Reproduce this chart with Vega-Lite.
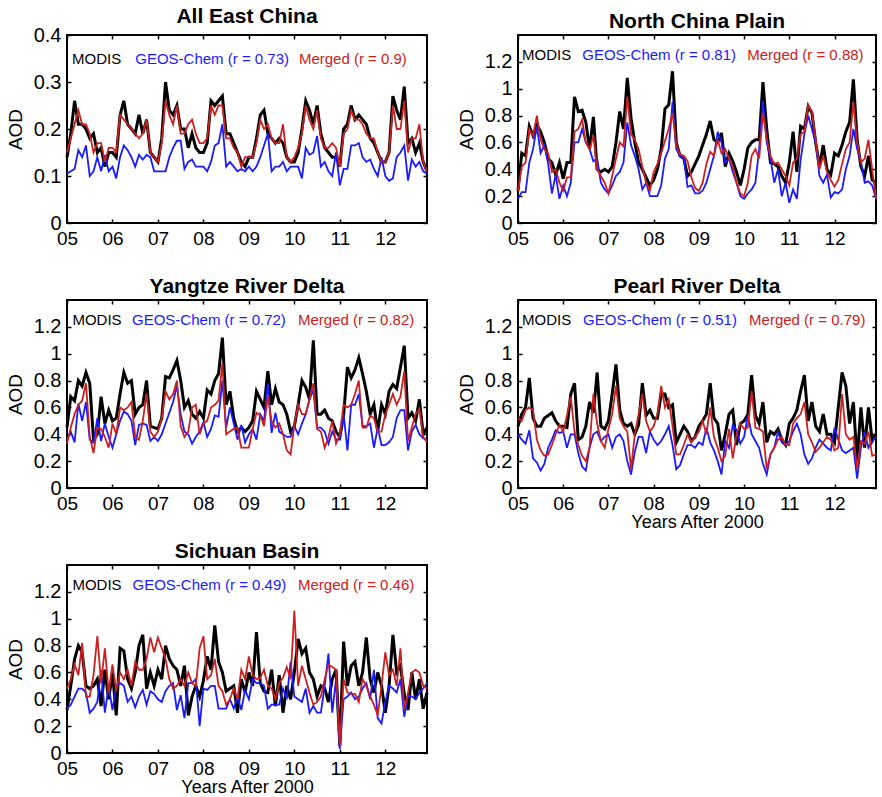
{
"$schema":"https://vega.github.io/schema/vega-lite/v6.json",
"padding":{"left":5,"top":5,"right":5,"bottom":0},
"background":"white",
"data":{"values":[
{"t":5,"aM":0.14,"aG":0.105,"aR":0.15,"nM":0.24,"nG":0.18,"nR":0.24,"yM":0.45,"yG":0.36,"yR":0.33,"pM":0.46,"pG":0.40,"pR":0.52,"sM":0.32,"sG":0.33,"sR":0.48},
{"t":5.083,"aM":0.19,"aG":0.11,"aR":0.18,"nM":0.52,"nG":0.23,"nR":0.42,"yM":0.68,"yG":0.42,"yR":0.45,"pM":0.55,"pG":0.36,"pR":0.50,"sM":0.50,"sG":0.36,"sR":0.55},
{"t":5.167,"aM":0.26,"aG":0.115,"aR":0.21,"nM":0.50,"nG":0.23,"nR":0.45,"yM":0.65,"yG":0.34,"yR":0.55,"pM":0.60,"pG":0.33,"pR":0.58,"sM":0.70,"sG":0.42,"sR":0.66},
{"t":5.25,"aM":0.21,"aG":0.155,"aR":0.24,"nM":0.72,"nG":0.45,"nR":0.70,"yM":0.80,"yG":0.63,"yR":0.62,"pM":0.82,"pG":0.43,"pR":0.60,"sM":0.80,"sG":0.48,"sR":0.58},
{"t":5.333,"aM":0.21,"aG":0.14,"aR":0.21,"nM":0.65,"nG":0.55,"nR":0.65,"yM":0.76,"yG":0.50,"yR":0.65,"pM":0.52,"pG":0.22,"pR":0.58,"sM":0.75,"sG":0.48,"sR":0.82},
{"t":5.417,"aM":0.20,"aG":0.165,"aR":0.21,"nM":0.73,"nG":0.72,"nR":0.80,"yM":0.86,"yG":0.64,"yR":0.78,"pM":0.46,"pG":0.19,"pR":0.36,"sM":0.50,"sG":0.45,"sR":0.42},
{"t":5.5,"aM":0.18,"aG":0.10,"aR":0.19,"nM":0.68,"nG":0.52,"nR":0.62,"yM":0.78,"yG":0.36,"yR":0.38,"pM":0.46,"pG":0.13,"pR":0.28,"sM":0.48,"sG":0.30,"sR":0.42},
{"t":5.583,"aM":0.19,"aG":0.11,"aR":0.15,"nM":0.60,"nG":0.58,"nR":0.55,"yM":0.36,"yG":0.34,"yR":0.26,"pM":0.52,"pG":0.18,"pR":0.24,"sM":0.50,"sG":0.33,"sR":0.58},
{"t":5.667,"aM":0.15,"aG":0.14,"aR":0.17,"nM":0.48,"nG":0.44,"nR":0.52,"yM":0.40,"yG":0.52,"yR":0.45,"pM":0.54,"pG":0.30,"pR":0.25,"sM":0.55,"sG":0.38,"sR":0.87},
{"t":5.75,"aM":0.16,"aG":0.11,"aR":0.17,"nM":0.45,"nG":0.22,"nR":0.38,"yM":0.68,"yG":0.35,"yR":0.44,"pM":0.56,"pG":0.36,"pR":0.32,"sM":0.35,"sG":0.62,"sR":0.52},
{"t":5.833,"aM":0.12,"aG":0.145,"aR":0.13,"nM":0.36,"nG":0.36,"nR":0.40,"yM":0.48,"yG":0.48,"yR":0.38,"pM":0.50,"pG":0.43,"pR":0.40,"sM":0.62,"sG":0.30,"sR":0.78},
{"t":5.917,"aM":0.15,"aG":0.11,"aR":0.16,"nM":0.45,"nG":0.18,"nR":0.30,"yM":0.58,"yG":0.38,"yR":0.30,"pM":0.46,"pG":0.41,"pR":0.47,"sM":0.40,"sG":0.50,"sR":0.45},
{"t":6,"aM":0.15,"aG":0.12,"aR":0.16,"nM":0.33,"nG":0.28,"nR":0.24,"yM":0.50,"yG":0.30,"yR":0.48,"pM":0.46,"pG":0.42,"pR":0.42,"sM":0.60,"sG":0.32,"sR":0.66},
{"t":6.083,"aM":0.14,"aG":0.095,"aR":0.15,"nM":0.45,"nG":0.20,"nR":0.34,"yM":0.52,"yG":0.40,"yR":0.40,"pM":0.45,"pG":0.30,"pR":0.54,"sM":0.28,"sG":0.50,"sR":0.46},
{"t":6.167,"aM":0.23,"aG":0.14,"aR":0.23,"nM":0.45,"nG":0.30,"nR":0.34,"yM":0.70,"yG":0.50,"yR":0.60,"pM":0.70,"pG":0.40,"pR":0.68,"sM":0.78,"sG":0.52,"sR":0.60},
{"t":6.25,"aM":0.26,"aG":0.165,"aR":0.22,"nM":0.94,"nG":0.60,"nR":0.68,"yM":0.86,"yG":0.57,"yR":0.58,"pM":0.78,"pG":0.40,"pR":0.42,"sM":0.76,"sG":0.50,"sR":0.55},
{"t":6.333,"aM":0.21,"aG":0.155,"aR":0.21,"nM":0.83,"nG":0.60,"nR":0.70,"yM":0.78,"yG":0.55,"yR":0.60,"pM":0.36,"pG":0.26,"pR":0.32,"sM":0.55,"sG":0.38,"sR":0.62},
{"t":6.417,"aM":0.20,"aG":0.14,"aR":0.20,"nM":0.84,"nG":0.70,"nR":0.77,"yM":0.80,"yG":0.50,"yR":0.64,"pM":0.38,"pG":0.16,"pR":0.24,"sM":0.48,"sG":0.42,"sR":0.50},
{"t":6.5,"aM":0.19,"aG":0.12,"aR":0.19,"nM":0.75,"nG":0.60,"nR":0.60,"yM":0.55,"yG":0.32,"yR":0.38,"pM":0.46,"pG":0.13,"pR":0.20,"sM":0.60,"sG":0.34,"sR":0.68},
{"t":6.583,"aM":0.23,"aG":0.145,"aR":0.18,"nM":0.55,"nG":0.55,"nR":0.55,"yM":0.60,"yG":0.47,"yR":0.36,"pM":0.64,"pG":0.30,"pR":0.30,"sM":0.80,"sG":0.42,"sR":0.62},
{"t":6.667,"aM":0.19,"aG":0.135,"aR":0.19,"nM":0.79,"nG":0.46,"nR":0.65,"yM":0.62,"yG":0.48,"yR":0.50,"pM":0.56,"pG":0.40,"pR":0.70,"sM":0.88,"sG":0.47,"sR":0.62},
{"t":6.75,"aM":0.22,"aG":0.145,"aR":0.22,"nM":0.40,"nG":0.48,"nR":0.40,"yM":0.80,"yG":0.47,"yR":0.70,"pM":0.86,"pG":0.42,"pR":0.48,"sM":0.48,"sG":0.36,"sR":0.70},
{"t":6.833,"aM":0.15,"aG":0.14,"aR":0.15,"nM":0.38,"nG":0.30,"nR":0.35,"yM":0.46,"yG":0.35,"yR":0.42,"pM":0.46,"pG":0.35,"pR":0.35,"sM":0.60,"sG":0.46,"sR":0.86},
{"t":6.917,"aM":0.14,"aG":0.11,"aR":0.14,"nM":0.40,"nG":0.25,"nR":0.30,"yM":0.45,"yG":0.38,"yR":0.38,"pM":0.44,"pG":0.38,"pR":0.30,"sM":0.50,"sG":0.44,"sR":0.75},
{"t":7,"aM":0.13,"aG":0.11,"aR":0.13,"nM":0.38,"nG":0.22,"nR":0.22,"yM":0.44,"yG":0.35,"yR":0.42,"pM":0.50,"pG":0.40,"pR":0.44,"sM":0.62,"sG":0.40,"sR":0.86},
{"t":7.083,"aM":0.18,"aG":0.11,"aR":0.17,"nM":0.42,"nG":0.28,"nR":0.35,"yM":0.52,"yG":0.40,"yR":0.52,"pM":0.70,"pG":0.30,"pR":0.55,"sM":0.55,"sG":0.38,"sR":0.78},
{"t":7.167,"aM":0.30,"aG":0.11,"aR":0.26,"nM":0.60,"nG":0.35,"nR":0.48,"yM":0.83,"yG":0.48,"yR":0.72,"pM":0.92,"pG":0.38,"pR":0.76,"sM":0.80,"sG":0.46,"sR":0.70},
{"t":7.25,"aM":0.24,"aG":0.14,"aR":0.23,"nM":0.83,"nG":0.38,"nR":0.60,"yM":0.82,"yG":0.56,"yR":0.66,"pM":0.58,"pG":0.40,"pR":0.52,"sM":0.70,"sG":0.50,"sR":0.55},
{"t":7.333,"aM":0.23,"aG":0.16,"aR":0.21,"nM":0.70,"nG":0.45,"nR":0.57,"yM":0.88,"yG":0.64,"yR":0.70,"pM":0.48,"pG":0.35,"pR":0.46,"sM":0.65,"sG":0.52,"sR":0.48},
{"t":7.417,"aM":0.25,"aG":0.175,"aR":0.25,"nM":1.08,"nG":0.75,"nR":0.94,"yM":0.95,"yG":0.76,"yR":0.80,"pM":0.46,"pG":0.20,"pR":0.42,"sM":0.62,"sG":0.32,"sR":0.50},
{"t":7.5,"aM":0.20,"aG":0.175,"aR":0.19,"nM":0.78,"nG":0.58,"nR":0.66,"yM":0.80,"yG":0.55,"yR":0.46,"pM":0.48,"pG":0.10,"pR":0.14,"sM":0.50,"sG":0.43,"sR":0.55},
{"t":7.583,"aM":0.20,"aG":0.115,"aR":0.19,"nM":0.60,"nG":0.50,"nR":0.62,"yM":0.60,"yG":0.42,"yR":0.38,"pM":0.40,"pG":0.27,"pR":0.40,"sM":0.65,"sG":0.26,"sR":0.50},
{"t":7.667,"aM":0.16,"aG":0.13,"aR":0.21,"nM":0.45,"nG":0.40,"nR":0.55,"yM":0.65,"yG":0.40,"yR":0.42,"pM":0.47,"pG":0.38,"pR":0.55,"sM":0.28,"sG":0.52,"sR":0.60},
{"t":7.75,"aM":0.19,"aG":0.135,"aR":0.22,"nM":0.40,"nG":0.25,"nR":0.42,"yM":0.55,"yG":0.33,"yR":0.60,"pM":0.78,"pG":0.38,"pR":0.70,"sM":0.42,"sG":0.52,"sR":0.52},
{"t":7.833,"aM":0.16,"aG":0.12,"aR":0.19,"nM":0.34,"nG":0.30,"nR":0.30,"yM":0.52,"yG":0.38,"yR":0.62,"pM":0.54,"pG":0.26,"pR":0.50,"sM":0.50,"sG":0.55,"sR":0.50},
{"t":7.917,"aM":0.15,"aG":0.12,"aR":0.17,"nM":0.28,"nG":0.20,"nR":0.24,"yM":0.57,"yG":0.42,"yR":0.40,"pM":0.58,"pG":0.42,"pR":0.42,"sM":0.42,"sG":0.20,"sR":0.78},
{"t":8,"aM":0.15,"aG":0.12,"aR":0.17,"nM":0.32,"nG":0.20,"nR":0.38,"yM":0.52,"yG":0.49,"yR":0.48,"pM":0.52,"pG":0.36,"pR":0.46,"sM":0.54,"sG":0.48,"sR":0.87},
{"t":8.083,"aM":0.17,"aG":0.11,"aR":0.18,"nM":0.40,"nG":0.20,"nR":0.44,"yM":0.73,"yG":0.38,"yR":0.50,"pM":0.52,"pG":0.32,"pR":0.55,"sM":0.72,"sG":0.47,"sR":0.55},
{"t":8.167,"aM":0.26,"aG":0.13,"aR":0.25,"nM":0.55,"nG":0.28,"nR":0.52,"yM":0.70,"yG":0.44,"yR":0.60,"pM":0.70,"pG":0.35,"pR":0.76,"sM":0.62,"sG":0.50,"sR":0.58},
{"t":8.25,"aM":0.25,"aG":0.165,"aR":0.23,"nM":0.85,"nG":0.48,"nR":0.61,"yM":0.80,"yG":0.54,"yR":0.62,"pM":0.70,"pG":0.40,"pR":0.60,"sM":0.95,"sG":0.50,"sR":0.70},
{"t":8.333,"aM":0.26,"aG":0.17,"aR":0.25,"nM":0.88,"nG":0.55,"nR":0.70,"yM":0.85,"yG":0.53,"yR":0.65,"pM":0.60,"pG":0.46,"pR":0.66,"sM":0.68,"sG":0.33,"sR":0.50},
{"t":8.417,"aM":0.27,"aG":0.21,"aR":0.25,"nM":1.13,"nG":0.90,"nR":0.82,"yM":1.12,"yG":0.80,"yR":0.93,"pM":0.62,"pG":0.32,"pR":0.46,"sM":0.60,"sG":0.33,"sR":0.46},
{"t":8.5,"aM":0.19,"aG":0.12,"aR":0.18,"nM":0.60,"nG":0.55,"nR":0.58,"yM":0.62,"yG":0.45,"yR":0.40,"pM":0.34,"pG":0.14,"pR":0.25,"sM":0.46,"sG":0.33,"sR":0.36},
{"t":8.583,"aM":0.19,"aG":0.13,"aR":0.18,"nM":0.50,"nG":0.50,"nR":0.51,"yM":0.72,"yG":0.60,"yR":0.42,"pM":0.40,"pG":0.17,"pR":0.25,"sM":0.48,"sG":0.40,"sR":0.40},
{"t":8.667,"aM":0.17,"aG":0.12,"aR":0.16,"nM":0.48,"nG":0.48,"nR":0.50,"yM":0.52,"yG":0.48,"yR":0.44,"pM":0.46,"pG":0.25,"pR":0.32,"sM":0.50,"sG":0.33,"sR":0.48},
{"t":8.75,"aM":0.15,"aG":0.11,"aR":0.15,"nM":0.35,"nG":0.27,"nR":0.46,"yM":0.42,"yG":0.36,"yR":0.45,"pM":0.42,"pG":0.32,"pR":0.40,"sM":0.30,"sG":0.42,"sR":0.40},
{"t":8.833,"aM":0.13,"aG":0.115,"aR":0.12,"nM":0.38,"nG":0.28,"nR":0.34,"yM":0.45,"yG":0.47,"yR":0.30,"pM":0.35,"pG":0.32,"pR":0.34,"sM":0.55,"sG":0.32,"sR":0.62},
{"t":8.917,"aM":0.12,"aG":0.11,"aR":0.14,"nM":0.44,"nG":0.22,"nR":0.26,"yM":0.42,"yG":0.34,"yR":0.30,"pM":0.38,"pG":0.30,"pR":0.38,"sM":0.45,"sG":0.47,"sR":0.55},
{"t":9,"aM":0.14,"aG":0.12,"aR":0.14,"nM":0.50,"nG":0.22,"nR":0.24,"yM":0.45,"yG":0.40,"yR":0.30,"pM":0.46,"pG":0.34,"pR":0.42,"sM":0.60,"sG":0.40,"sR":0.72},
{"t":9.083,"aM":0.14,"aG":0.11,"aR":0.14,"nM":0.58,"nG":0.24,"nR":0.30,"yM":0.50,"yG":0.44,"yR":0.44,"pM":0.50,"pG":0.32,"pR":0.50,"sM":0.50,"sG":0.55,"sR":0.58},
{"t":9.167,"aM":0.18,"aG":0.12,"aR":0.17,"nM":0.66,"nG":0.30,"nR":0.44,"yM":0.72,"yG":0.36,"yR":0.56,"pM":0.55,"pG":0.45,"pR":0.40,"sM":0.90,"sG":0.52,"sR":0.55},
{"t":9.25,"aM":0.23,"aG":0.14,"aR":0.22,"nM":0.76,"nG":0.40,"nR":0.53,"yM":0.66,"yG":0.55,"yR":0.54,"pM":0.78,"pG":0.34,"pR":0.60,"sM":0.52,"sG":0.52,"sR":0.56},
{"t":9.333,"aM":0.24,"aG":0.165,"aR":0.20,"nM":0.62,"nG":0.50,"nR":0.50,"yM":0.60,"yG":0.50,"yR":0.46,"pM":0.52,"pG":0.28,"pR":0.38,"sM":0.46,"sG":0.50,"sR":0.62},
{"t":9.417,"aM":0.19,"aG":0.19,"aR":0.21,"nM":0.60,"nG":0.68,"nR":0.62,"yM":0.87,"yG":0.78,"yR":0.68,"pM":0.48,"pG":0.20,"pR":0.30,"sM":0.45,"sG":0.33,"sR":0.50},
{"t":9.5,"aM":0.18,"aG":0.11,"aR":0.18,"nM":0.67,"nG":0.60,"nR":0.52,"yM":0.62,"yG":0.41,"yR":0.50,"pM":0.28,"pG":0.10,"pR":0.20,"sM":0.62,"sG":0.36,"sR":0.48},
{"t":9.583,"aM":0.17,"aG":0.12,"aR":0.17,"nM":0.42,"nG":0.45,"nR":0.55,"yM":0.74,"yG":0.56,"yR":0.45,"pM":0.40,"pG":0.35,"pR":0.24,"sM":0.35,"sG":0.36,"sR":0.40},
{"t":9.667,"aM":0.18,"aG":0.12,"aR":0.17,"nM":0.52,"nG":0.48,"nR":0.48,"yM":0.64,"yG":0.42,"yR":0.48,"pM":0.55,"pG":0.30,"pR":0.44,"sM":0.58,"sG":0.36,"sR":0.52},
{"t":9.75,"aM":0.17,"aG":0.13,"aR":0.21,"nM":0.46,"nG":0.38,"nR":0.42,"yM":0.62,"yG":0.40,"yR":0.40,"pM":0.58,"pG":0.47,"pR":0.22,"sM":0.30,"sG":0.48,"sR":0.56},
{"t":9.833,"aM":0.14,"aG":0.11,"aR":0.14,"nM":0.38,"nG":0.30,"nR":0.30,"yM":0.55,"yG":0.38,"yR":0.28,"pM":0.32,"pG":0.43,"pR":0.40,"sM":0.50,"sG":0.40,"sR":0.64},
{"t":9.917,"aM":0.13,"aG":0.12,"aR":0.13,"nM":0.28,"nG":0.20,"nR":0.22,"yM":0.42,"yG":0.38,"yR":0.25,"pM":0.48,"pG":0.33,"pR":0.48,"sM":0.40,"sG":0.68,"sR":0.55},
{"t":10,"aM":0.13,"aG":0.12,"aR":0.14,"nM":0.40,"nG":0.18,"nR":0.20,"yM":0.46,"yG":0.46,"yR":0.47,"pM":0.50,"pG":0.38,"pR":0.44,"sM":0.60,"sG":0.42,"sR":1.06},
{"t":10.083,"aM":0.15,"aG":0.12,"aR":0.16,"nM":0.56,"nG":0.22,"nR":0.30,"yM":0.62,"yG":0.40,"yR":0.62,"pM":0.55,"pG":0.54,"pR":0.45,"sM":0.85,"sG":0.40,"sR":0.50},
{"t":10.167,"aM":0.20,"aG":0.095,"aR":0.19,"nM":0.60,"nG":0.25,"nR":0.50,"yM":0.80,"yG":0.48,"yR":0.55,"pM":0.84,"pG":0.40,"pR":0.72,"sM":0.74,"sG":0.38,"sR":0.65},
{"t":10.25,"aM":0.26,"aG":0.16,"aR":0.25,"nM":0.62,"nG":0.30,"nR":0.55,"yM":0.75,"yG":0.55,"yR":0.55,"pM":0.54,"pG":0.35,"pR":0.45,"sM":0.78,"sG":0.48,"sR":0.55},
{"t":10.333,"aM":0.24,"aG":0.145,"aR":0.22,"nM":0.62,"nG":0.55,"nR":0.48,"yM":0.66,"yG":0.66,"yR":0.66,"pM":0.48,"pG":0.30,"pR":0.44,"sM":0.60,"sG":0.30,"sR":0.45},
{"t":10.417,"aM":0.21,"aG":0.15,"aR":0.20,"nM":1.05,"nG":0.91,"nR":0.82,"yM":1.10,"yG":0.73,"yR":0.78,"pM":0.64,"pG":0.18,"pR":0.42,"sM":0.55,"sG":0.35,"sR":0.36},
{"t":10.5,"aM":0.25,"aG":0.185,"aR":0.24,"nM":0.70,"nG":0.60,"nR":0.63,"yM":0.55,"yG":0.45,"yR":0.44,"pM":0.34,"pG":0.10,"pR":0.14,"sM":0.42,"sG":0.30,"sR":0.38},
{"t":10.583,"aM":0.19,"aG":0.12,"aR":0.18,"nM":0.45,"nG":0.48,"nR":0.50,"yM":0.55,"yG":0.45,"yR":0.42,"pM":0.42,"pG":0.25,"pR":0.25,"sM":0.50,"sG":0.30,"sR":0.42},
{"t":10.667,"aM":0.16,"aG":0.13,"aR":0.16,"nM":0.44,"nG":0.30,"nR":0.44,"yM":0.58,"yG":0.42,"yR":0.30,"pM":0.40,"pG":0.30,"pR":0.30,"sM":0.48,"sG":0.50,"sR":0.55},
{"t":10.75,"aM":0.15,"aG":0.11,"aR":0.16,"nM":0.42,"nG":0.40,"nR":0.45,"yM":0.52,"yG":0.33,"yR":0.38,"pM":0.44,"pG":0.42,"pR":0.36,"sM":0.38,"sG":0.74,"sR":0.66},
{"t":10.833,"aM":0.14,"aG":0.10,"aR":0.17,"nM":0.35,"nG":0.20,"nR":0.40,"yM":0.50,"yG":0.42,"yR":0.50,"pM":0.36,"pG":0.34,"pR":0.38,"sM":0.55,"sG":0.30,"sR":0.64},
{"t":10.917,"aM":0.14,"aG":0.15,"aR":0.16,"nM":0.30,"nG":0.30,"nR":0.35,"yM":0.42,"yG":0.36,"yR":0.33,"pM":0.32,"pG":0.32,"pR":0.32,"sM":0.62,"sG":0.55,"sR":0.62},
{"t":11,"aM":0.12,"aG":0.08,"aR":0.12,"nM":0.45,"nG":0.15,"nR":0.28,"yM":0.38,"yG":0.36,"yR":0.40,"pM":0.48,"pG":0.35,"pR":0.32,"sM":0.05,"sG":0.03,"sR":0.05},
{"t":11.083,"aM":0.20,"aG":0.115,"aR":0.19,"nM":0.68,"nG":0.25,"nR":0.45,"yM":0.54,"yG":0.55,"yR":0.62,"pM":0.52,"pG":0.42,"pR":0.48,"sM":0.83,"sG":0.40,"sR":0.55},
{"t":11.167,"aM":0.21,"aG":0.115,"aR":0.20,"nM":0.38,"nG":0.18,"nR":0.48,"yM":0.90,"yG":0.28,"yR":0.60,"pM":0.58,"pG":0.48,"pR":0.52,"sM":0.50,"sG":0.42,"sR":0.45},
{"t":11.25,"aM":0.25,"aG":0.165,"aR":0.24,"nM":0.72,"nG":0.47,"nR":0.66,"yM":0.82,"yG":0.62,"yR":0.62,"pM":0.72,"pG":0.40,"pR":0.55,"sM":0.65,"sG":0.45,"sR":0.44},
{"t":11.333,"aM":0.22,"aG":0.165,"aR":0.22,"nM":0.70,"nG":0.66,"nR":0.68,"yM":0.88,"yG":0.62,"yR":0.70,"pM":0.84,"pG":0.25,"pR":0.64,"sM":0.68,"sG":0.40,"sR":0.44},
{"t":11.417,"aM":0.23,"aG":0.17,"aR":0.22,"nM":0.87,"nG":0.80,"nR":0.88,"yM":0.97,"yG":0.70,"yR":0.80,"pM":0.50,"pG":0.18,"pR":0.40,"sM":0.50,"sG":0.42,"sR":0.38},
{"t":11.5,"aM":0.22,"aG":0.14,"aR":0.21,"nM":0.82,"nG":0.70,"nR":0.83,"yM":0.85,"yG":0.46,"yR":0.45,"pM":0.64,"pG":0.22,"pR":0.34,"sM":0.60,"sG":0.48,"sR":0.55},
{"t":11.583,"aM":0.21,"aG":0.13,"aR":0.19,"nM":0.60,"nG":0.60,"nR":0.62,"yM":0.72,"yG":0.46,"yR":0.45,"pM":0.46,"pG":0.30,"pR":0.27,"sM":0.86,"sG":0.52,"sR":0.50},
{"t":11.667,"aM":0.18,"aG":0.135,"aR":0.18,"nM":0.42,"nG":0.35,"nR":0.40,"yM":0.55,"yG":0.48,"yR":0.54,"pM":0.42,"pG":0.36,"pR":0.30,"sM":0.55,"sG":0.40,"sR":0.42},
{"t":11.75,"aM":0.17,"aG":0.115,"aR":0.18,"nM":0.58,"nG":0.30,"nR":0.50,"yM":0.62,"yG":0.30,"yR":0.52,"pM":0.55,"pG":0.33,"pR":0.34,"sM":0.45,"sG":0.62,"sR":0.36},
{"t":11.833,"aM":0.15,"aG":0.10,"aR":0.15,"nM":0.40,"nG":0.36,"nR":0.38,"yM":0.42,"yG":0.45,"yR":0.42,"pM":0.40,"pG":0.30,"pR":0.38,"sM":0.60,"sG":0.26,"sR":0.28},
{"t":11.917,"aM":0.13,"aG":0.14,"aR":0.13,"nM":0.36,"nG":0.19,"nR":0.32,"yM":0.62,"yG":0.32,"yR":0.42,"pM":0.40,"pG":0.28,"pR":0.36,"sM":0.50,"sG":0.22,"sR":0.50},
{"t":12,"aM":0.13,"aG":0.10,"aR":0.13,"nM":0.52,"nG":0.23,"nR":0.27,"yM":0.55,"yG":0.32,"yR":0.55,"pM":0.34,"pG":0.45,"pR":0.28,"sM":0.30,"sG":0.38,"sR":0.75},
{"t":12.083,"aM":0.15,"aG":0.09,"aR":0.15,"nM":0.50,"nG":0.22,"nR":0.32,"yM":0.72,"yG":0.34,"yR":0.62,"pM":0.60,"pG":0.36,"pR":0.30,"sM":0.50,"sG":0.50,"sR":0.58},
{"t":12.167,"aM":0.27,"aG":0.095,"aR":0.25,"nM":0.58,"nG":0.25,"nR":0.44,"yM":0.77,"yG":0.38,"yR":0.70,"pM":0.86,"pG":0.28,"pR":0.70,"sM":0.88,"sG":0.48,"sR":0.62},
{"t":12.25,"aM":0.24,"aG":0.14,"aR":0.20,"nM":0.68,"nG":0.40,"nR":0.55,"yM":0.74,"yG":0.52,"yR":0.62,"pM":0.76,"pG":0.26,"pR":0.40,"sM":0.60,"sG":0.45,"sR":0.50},
{"t":12.333,"aM":0.22,"aG":0.15,"aR":0.20,"nM":0.75,"nG":0.50,"nR":0.60,"yM":0.90,"yG":0.58,"yR":0.68,"pM":0.48,"pG":0.28,"pR":0.36,"sM":0.65,"sG":0.55,"sR":0.78},
{"t":12.417,"aM":0.29,"aG":0.165,"aR":0.26,"nM":1.07,"nG":0.70,"nR":0.90,"yM":1.06,"yG":0.58,"yR":0.87,"pM":0.64,"pG":0.30,"pR":0.38,"sM":0.44,"sG":0.27,"sR":0.32},
{"t":12.5,"aM":0.17,"aG":0.09,"aR":0.15,"nM":0.62,"nG":0.55,"nR":0.60,"yM":0.52,"yG":0.28,"yR":0.35,"pM":0.20,"pG":0.07,"pR":0.14,"sM":0.32,"sG":0.43,"sR":0.45},
{"t":12.583,"aM":0.18,"aG":0.135,"aR":0.18,"nM":0.42,"nG":0.46,"nR":0.45,"yM":0.56,"yG":0.42,"yR":0.45,"pM":0.60,"pG":0.30,"pR":0.35,"sM":0.60,"sG":0.42,"sR":0.60},
{"t":12.667,"aM":0.15,"aG":0.12,"aR":0.18,"nM":0.35,"nG":0.30,"nR":0.48,"yM":0.50,"yG":0.47,"yR":0.55,"pM":0.30,"pG":0.42,"pR":0.33,"sM":0.40,"sG":0.40,"sR":0.62},
{"t":12.75,"aM":0.17,"aG":0.13,"aR":0.21,"nM":0.50,"nG":0.31,"nR":0.62,"yM":0.66,"yG":0.40,"yR":0.59,"pM":0.60,"pG":0.30,"pR":0.42,"sM":0.55,"sG":0.45,"sR":0.60},
{"t":12.833,"aM":0.13,"aG":0.11,"aR":0.13,"nM":0.32,"nG":0.28,"nR":0.40,"yM":0.40,"yG":0.37,"yR":0.38,"pM":0.35,"pG":0.35,"pR":0.24,"sM":0.33,"sG":0.48,"sR":0.50},
{"t":12.917,"aM":0.11,"aG":0.105,"aR":0.11,"nM":0.30,"nG":0.18,"nR":0.18,"yM":0.45,"yG":0.36,"yR":0.34,"pM":0.40,"pG":0.38,"pR":0.25,"sM":0.45,"sG":0.52,"sR":0.48}
]},
"columns":2,
"bounds":"flush",
"spacing":{"row":77,"column":91},
"concat":[
{"width":360,"height":188,"title":{"text":"All East China","offset":-2},
 "layer":[
  {"mark":{"type":"line","color":"black","strokeWidth":3},"encoding":{"x":{"field":"t","type":"quantitative","scale":{"domain":[5,12.917],"nice":false,"zero":false},"axis":{"orient":"bottom","values":[5,6,7,8,9,10,11,12],"labelExpr":"datum.value < 10 ? '0' + datum.value : '' + datum.value","title":null}},"y":{"field":"aM","type":"quantitative","scale":{"domain":[0,0.4],"nice":false},"axis":{"orient":"left","values":[0,0.1,0.2,0.3,0.4],"format":".1~f","title":"AOD"}}}},
  {"mark":{"type":"line","color":"#1a1aff","strokeWidth":1.8},"encoding":{"x":{"field":"t","type":"quantitative","axis":null},"y":{"field":"aG","type":"quantitative","axis":null}}},
  {"mark":{"type":"line","color":"#cc2020","strokeWidth":1.8},"encoding":{"x":{"field":"t","type":"quantitative","axis":null},"y":{"field":"aR","type":"quantitative","axis":null}}},
  {"data":{"values":[{"label":"MODIS","x":5.11,"y":0.349}]},"mark":{"type":"text","align":"left","baseline":"middle","fontSize":15,"fill":"black"},"encoding":{"x":{"field":"x","type":"quantitative","axis":null},"y":{"field":"y","type":"quantitative","axis":null},"text":{"field":"label"}}},
  {"data":{"values":[{"label":"GEOS-Chem (r = 0.73)","x":6.5,"y":0.349}]},"mark":{"type":"text","align":"left","baseline":"middle","fontSize":15,"fill":"#1a1aff"},"encoding":{"x":{"field":"x","type":"quantitative","axis":null},"y":{"field":"y","type":"quantitative","axis":null},"text":{"field":"label"}}},
  {"data":{"values":[{"label":"Merged (r = 0.9)","x":10.1,"y":0.349}]},"mark":{"type":"text","align":"left","baseline":"middle","fontSize":15,"fill":"#cc2020"},"encoding":{"x":{"field":"x","type":"quantitative","axis":null},"y":{"field":"y","type":"quantitative","axis":null},"text":{"field":"label"}}},
  {"mark":{"type":"line","opacity":0},"encoding":{"x":{"field":"t","type":"quantitative","axis":{"orient":"top","values":[5,6,7,8,9,10,11,12],"labels":false,"title":null}},"y":{"field":"aM","type":"quantitative","axis":{"orient":"right","values":[0,0.1,0.2,0.3,0.4],"labels":false,"title":null}}}}
 ],
 "resolve":{"axis":{"x":"independent","y":"independent"}}},
{"width":358,"height":188,"title":"North China Plain",
 "layer":[
  {"mark":{"type":"line","color":"black","strokeWidth":3},"encoding":{"x":{"field":"t","type":"quantitative","scale":{"domain":[5,12.917],"nice":false,"zero":false},"axis":{"orient":"bottom","values":[5,6,7,8,9,10,11,12],"labelExpr":"datum.value < 10 ? '0' + datum.value : '' + datum.value","title":null}},"y":{"field":"nM","type":"quantitative","scale":{"domain":[0,1.4],"nice":false},"axis":{"orient":"left","values":[0,0.2,0.4,0.6,0.8,1,1.2],"format":".1~f","title":"AOD"}}}},
  {"mark":{"type":"line","color":"#1a1aff","strokeWidth":1.8},"encoding":{"x":{"field":"t","type":"quantitative","axis":null},"y":{"field":"nG","type":"quantitative","axis":null}}},
  {"mark":{"type":"line","color":"#cc2020","strokeWidth":1.8},"encoding":{"x":{"field":"t","type":"quantitative","axis":null},"y":{"field":"nR","type":"quantitative","axis":null}}},
  {"data":{"values":[{"label":"MODIS","x":5.09,"y":1.25}]},"mark":{"type":"text","align":"left","baseline":"middle","fontSize":15,"fill":"black"},"encoding":{"x":{"field":"x","type":"quantitative","axis":null},"y":{"field":"y","type":"quantitative","axis":null},"text":{"field":"label"}}},
  {"data":{"values":[{"label":"GEOS-Chem (r = 0.81)","x":6.42,"y":1.25}]},"mark":{"type":"text","align":"left","baseline":"middle","fontSize":15,"fill":"#1a1aff"},"encoding":{"x":{"field":"x","type":"quantitative","axis":null},"y":{"field":"y","type":"quantitative","axis":null},"text":{"field":"label"}}},
  {"data":{"values":[{"label":"Merged (r = 0.88)","x":10.07,"y":1.25}]},"mark":{"type":"text","align":"left","baseline":"middle","fontSize":15,"fill":"#cc2020"},"encoding":{"x":{"field":"x","type":"quantitative","axis":null},"y":{"field":"y","type":"quantitative","axis":null},"text":{"field":"label"}}},
  {"mark":{"type":"line","opacity":0},"encoding":{"x":{"field":"t","type":"quantitative","axis":{"orient":"top","values":[5,6,7,8,9,10,11,12],"labels":false,"title":null}},"y":{"field":"nM","type":"quantitative","axis":{"orient":"right","values":[0,0.2,0.4,0.6,0.8,1,1.2],"labels":false,"title":null}}}}
 ],
 "resolve":{"axis":{"x":"independent","y":"independent"}}},
{"width":360,"height":188,"title":"Yangtze River Delta",
 "layer":[
  {"mark":{"type":"line","color":"black","strokeWidth":3},"encoding":{"x":{"field":"t","type":"quantitative","scale":{"domain":[5,12.917],"nice":false,"zero":false},"axis":{"orient":"bottom","values":[5,6,7,8,9,10,11,12],"labelExpr":"datum.value < 10 ? '0' + datum.value : '' + datum.value","title":null}},"y":{"field":"yM","type":"quantitative","scale":{"domain":[0,1.4],"nice":false},"axis":{"orient":"left","values":[0,0.2,0.4,0.6,0.8,1,1.2],"format":".1~f","title":"AOD"}}}},
  {"mark":{"type":"line","color":"#1a1aff","strokeWidth":1.8},"encoding":{"x":{"field":"t","type":"quantitative","axis":null},"y":{"field":"yG","type":"quantitative","axis":null}}},
  {"mark":{"type":"line","color":"#cc2020","strokeWidth":1.8},"encoding":{"x":{"field":"t","type":"quantitative","axis":null},"y":{"field":"yR","type":"quantitative","axis":null}}},
  {"data":{"values":[{"label":"MODIS","x":5.12,"y":1.25}]},"mark":{"type":"text","align":"left","baseline":"middle","fontSize":15,"fill":"black"},"encoding":{"x":{"field":"x","type":"quantitative","axis":null},"y":{"field":"y","type":"quantitative","axis":null},"text":{"field":"label"}}},
  {"data":{"values":[{"label":"GEOS-Chem (r = 0.72)","x":6.43,"y":1.25}]},"mark":{"type":"text","align":"left","baseline":"middle","fontSize":15,"fill":"#1a1aff"},"encoding":{"x":{"field":"x","type":"quantitative","axis":null},"y":{"field":"y","type":"quantitative","axis":null},"text":{"field":"label"}}},
  {"data":{"values":[{"label":"Merged (r = 0.82)","x":10.08,"y":1.25}]},"mark":{"type":"text","align":"left","baseline":"middle","fontSize":15,"fill":"#cc2020"},"encoding":{"x":{"field":"x","type":"quantitative","axis":null},"y":{"field":"y","type":"quantitative","axis":null},"text":{"field":"label"}}},
  {"mark":{"type":"line","opacity":0},"encoding":{"x":{"field":"t","type":"quantitative","axis":{"orient":"top","values":[5,6,7,8,9,10,11,12],"labels":false,"title":null}},"y":{"field":"yM","type":"quantitative","axis":{"orient":"right","values":[0,0.2,0.4,0.6,0.8,1,1.2],"labels":false,"title":null}}}}
 ],
 "resolve":{"axis":{"x":"independent","y":"independent"}}},
{"width":358,"height":188,"title":"Pearl River Delta",
 "layer":[
  {"mark":{"type":"line","color":"black","strokeWidth":3},"encoding":{"x":{"field":"t","type":"quantitative","scale":{"domain":[5,12.917],"nice":false,"zero":false},"axis":{"orient":"bottom","values":[5,6,7,8,9,10,11,12],"labelExpr":"datum.value < 10 ? '0' + datum.value : '' + datum.value","title":"Years After 2000"}},"y":{"field":"pM","type":"quantitative","scale":{"domain":[0,1.4],"nice":false},"axis":{"orient":"left","values":[0,0.2,0.4,0.6,0.8,1,1.2],"format":".1~f","title":"AOD"}}}},
  {"mark":{"type":"line","color":"#1a1aff","strokeWidth":1.8},"encoding":{"x":{"field":"t","type":"quantitative","axis":null},"y":{"field":"pG","type":"quantitative","axis":null}}},
  {"mark":{"type":"line","color":"#cc2020","strokeWidth":1.8},"encoding":{"x":{"field":"t","type":"quantitative","axis":null},"y":{"field":"pR","type":"quantitative","axis":null}}},
  {"data":{"values":[{"label":"MODIS","x":5.09,"y":1.25}]},"mark":{"type":"text","align":"left","baseline":"middle","fontSize":15,"fill":"black"},"encoding":{"x":{"field":"x","type":"quantitative","axis":null},"y":{"field":"y","type":"quantitative","axis":null},"text":{"field":"label"}}},
  {"data":{"values":[{"label":"GEOS-Chem (r = 0.51)","x":6.44,"y":1.25}]},"mark":{"type":"text","align":"left","baseline":"middle","fontSize":15,"fill":"#1a1aff"},"encoding":{"x":{"field":"x","type":"quantitative","axis":null},"y":{"field":"y","type":"quantitative","axis":null},"text":{"field":"label"}}},
  {"data":{"values":[{"label":"Merged (r = 0.79)","x":10.11,"y":1.25}]},"mark":{"type":"text","align":"left","baseline":"middle","fontSize":15,"fill":"#cc2020"},"encoding":{"x":{"field":"x","type":"quantitative","axis":null},"y":{"field":"y","type":"quantitative","axis":null},"text":{"field":"label"}}},
  {"mark":{"type":"line","opacity":0},"encoding":{"x":{"field":"t","type":"quantitative","axis":{"orient":"top","values":[5,6,7,8,9,10,11,12],"labels":false,"title":null}},"y":{"field":"pM","type":"quantitative","axis":{"orient":"right","values":[0,0.2,0.4,0.6,0.8,1,1.2],"labels":false,"title":null}}}}
 ],
 "resolve":{"axis":{"x":"independent","y":"independent"}}},
{"width":360,"height":188,"title":"Sichuan Basin",
 "layer":[
  {"mark":{"type":"line","color":"black","strokeWidth":3},"encoding":{"x":{"field":"t","type":"quantitative","scale":{"domain":[5,12.917],"nice":false,"zero":false},"axis":{"orient":"bottom","values":[5,6,7,8,9,10,11,12],"labelExpr":"datum.value < 10 ? '0' + datum.value : '' + datum.value","title":"Years After 2000"}},"y":{"field":"sM","type":"quantitative","scale":{"domain":[0,1.4],"nice":false},"axis":{"orient":"left","values":[0,0.2,0.4,0.6,0.8,1,1.2],"format":".1~f","title":"AOD"}}}},
  {"mark":{"type":"line","color":"#1a1aff","strokeWidth":1.8},"encoding":{"x":{"field":"t","type":"quantitative","axis":null},"y":{"field":"sG","type":"quantitative","axis":null}}},
  {"mark":{"type":"line","color":"#cc2020","strokeWidth":1.8},"encoding":{"x":{"field":"t","type":"quantitative","axis":null},"y":{"field":"sR","type":"quantitative","axis":null}}},
  {"data":{"values":[{"label":"MODIS","x":5.12,"y":1.25}]},"mark":{"type":"text","align":"left","baseline":"middle","fontSize":15,"fill":"black"},"encoding":{"x":{"field":"x","type":"quantitative","axis":null},"y":{"field":"y","type":"quantitative","axis":null},"text":{"field":"label"}}},
  {"data":{"values":[{"label":"GEOS-Chem (r = 0.49)","x":6.44,"y":1.25}]},"mark":{"type":"text","align":"left","baseline":"middle","fontSize":15,"fill":"#1a1aff"},"encoding":{"x":{"field":"x","type":"quantitative","axis":null},"y":{"field":"y","type":"quantitative","axis":null},"text":{"field":"label"}}},
  {"data":{"values":[{"label":"Merged (r = 0.46)","x":10.08,"y":1.25}]},"mark":{"type":"text","align":"left","baseline":"middle","fontSize":15,"fill":"#cc2020"},"encoding":{"x":{"field":"x","type":"quantitative","axis":null},"y":{"field":"y","type":"quantitative","axis":null},"text":{"field":"label"}}},
  {"mark":{"type":"line","opacity":0},"encoding":{"x":{"field":"t","type":"quantitative","axis":{"orient":"top","values":[5,6,7,8,9,10,11,12],"labels":false,"title":null}},"y":{"field":"sM","type":"quantitative","axis":{"orient":"right","values":[0,0.2,0.4,0.6,0.8,1,1.2],"labels":false,"title":null}}}}
 ],
 "resolve":{"axis":{"x":"independent","y":"independent"}}}
],
"config":{
 "view":{"stroke":"black","strokeWidth":2},
 "font":"Liberation Sans",
 "axis":{"grid":false,"domain":false,"ticks":true,"tickSize":-4,"tickColor":"black","tickWidth":1.5,"labelFont":"Liberation Sans","labelFontSize":20,"labelColor":"black","labelPadding":10,"labelFlush":false,"labelOverlap":false,"titleFont":"Liberation Sans","titleFontSize":19,"titleFontWeight":"normal","titleColor":"black","titlePadding":8},
 "axisX":{"titlePadding":0,"labelPadding":10,"labelFontSize":19,"titleFontSize":18},
 "title":{"font":"Liberation Sans","fontSize":21,"fontWeight":"bold","color":"black","offset":2,"anchor":"middle"},
 "text":{"font":"Liberation Sans"}
}
}
